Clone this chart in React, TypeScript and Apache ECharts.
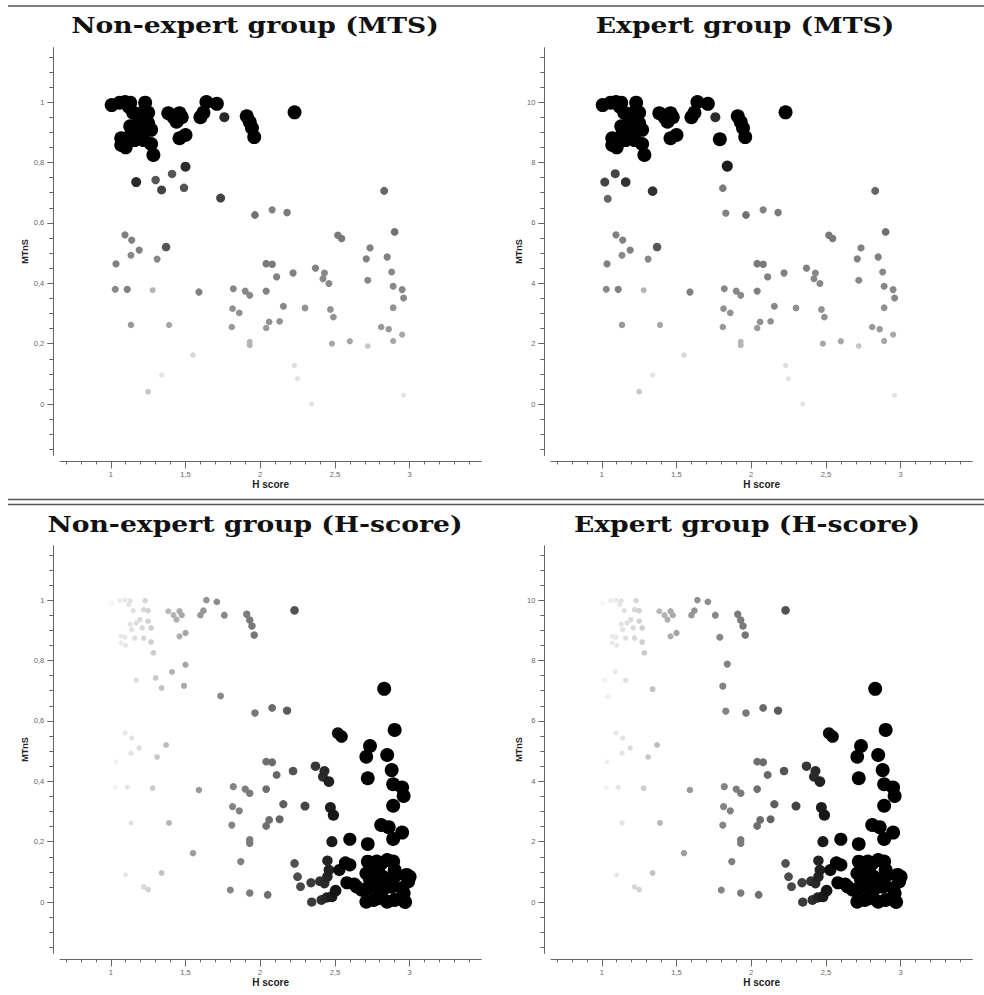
import React, { useEffect, useRef } from 'react';
import * as echarts from 'echarts';

// Non-expert group: [H score, MTnS, MTS shade]
const nonExpert: [number, number, number][] = [
  [1.006, 0.99, 1], [1.06, 0.998, 1], [1.095, 1.0, 1], [1.13, 0.998, 1], [1.12, 0.985, 1],
  [1.15, 0.965, 1], [1.23, 0.998, 1], [1.25, 0.965, 1], [1.22, 0.968, 1], [1.195, 0.935, 1],
  [1.13, 0.92, 1], [1.17, 0.924, 1], [1.25, 0.93, 1], [1.27, 0.908, 1], [1.21, 0.908, 1],
  [1.14, 0.902, 1], [1.07, 0.88, 1], [1.095, 0.877, 1], [1.16, 0.874, 1], [1.22, 0.874, 1],
  [1.07, 0.858, 1], [1.10, 0.85, 1], [1.27, 0.861, 1], [1.285, 0.825, 1], [1.385, 0.963, 1],
  [1.42, 0.95, 1], [1.46, 0.963, 1], [1.475, 0.95, 1], [1.44, 0.935, 1], [1.46, 0.88, 1],
  [1.50, 0.891, 1], [1.60, 0.95, 1], [1.62, 0.965, 1], [1.64, 1.0, 1], [1.71, 0.994, 1],
  [1.91, 0.953, 1], [1.93, 0.934, 1], [1.945, 0.914, 1], [1.96, 0.884, 1], [2.23, 0.966, 1],
  [1.76, 0.95, 0.82],
  [1.17, 0.735, 0.82], [1.30, 0.742, 0.7], [1.34, 0.709, 0.75], [1.41, 0.762, 0.7],
  [1.49, 0.716, 0.7], [1.50, 0.786, 0.82], [1.735, 0.682, 0.75],
  [1.095, 0.56, 0.5], [1.14, 0.543, 0.5], [1.19, 0.51, 0.5], [1.135, 0.493, 0.45],
  [1.035, 0.464, 0.5], [1.31, 0.48, 0.45], [1.37, 0.52, 0.7], [1.03, 0.38, 0.45],
  [1.11, 0.38, 0.5], [1.135, 0.262, 0.35], [1.28, 0.377, 0.25], [1.39, 0.262, 0.3],
  [1.59, 0.371, 0.5], [1.55, 0.162, 0.15], [1.34, 0.096, 0.1], [1.25, 0.041, 0.2],
  [1.10, 0.09, 0], [1.22, 0.05, 0],
  [1.965, 0.626, 0.6], [2.08, 0.643, 0.5], [2.18, 0.634, 0.55],
  [2.83, 0.706, 0.65], [2.90, 0.57, 0.6], [2.52, 0.559, 0.55], [2.545, 0.548, 0.55],
  [2.735, 0.517, 0.5], [2.71, 0.481, 0.5], [2.85, 0.487, 0.5], [2.88, 0.437, 0.45],
  [2.72, 0.41, 0.45], [2.89, 0.39, 0.45], [2.95, 0.379, 0.45], [2.96, 0.351, 0.45],
  [2.89, 0.319, 0.4], [2.37, 0.45, 0.5], [2.43, 0.434, 0.45], [2.42, 0.415, 0.45],
  [2.46, 0.399, 0.45], [2.47, 0.313, 0.4], [2.49, 0.288, 0.4], [2.81, 0.255, 0.35],
  [2.86, 0.248, 0.35], [2.95, 0.23, 0.3], [2.89, 0.209, 0.3], [2.72, 0.192, 0.2],
  [2.48, 0.2, 0.3], [2.60, 0.208, 0.3], [2.04, 0.465, 0.55], [2.08, 0.463, 0.55],
  [2.11, 0.421, 0.5], [2.22, 0.434, 0.5], [1.82, 0.382, 0.45], [1.90, 0.374, 0.45],
  [1.93, 0.36, 0.45], [2.04, 0.374, 0.5], [2.155, 0.324, 0.45], [2.30, 0.318, 0.4],
  [1.815, 0.316, 0.4], [1.86, 0.302, 0.4], [2.06, 0.272, 0.4], [2.04, 0.252, 0.35],
  [2.13, 0.274, 0.4], [1.81, 0.255, 0.35], [1.93, 0.206, 0.25], [1.93, 0.195, 0.25],
  [1.87, 0.134, 0], [2.23, 0.128, 0.12], [2.45, 0.137, 0], [2.57, 0.13, 0], [2.60, 0.123, 0],
  [2.53, 0.106, 0], [2.46, 0.106, 0], [2.45, 0.084, 0], [2.25, 0.084, 0.1], [2.27, 0.051, 0],
  [2.34, 0.064, 0], [2.40, 0.069, 0], [2.43, 0.062, 0], [2.505, 0.038, 0], [2.58, 0.064, 0],
  [2.63, 0.059, 0], [2.645, 0.051, 0], [2.68, 0.04, 0], [2.445, 0.015, 0], [2.48, 0.018, 0],
  [2.41, 0.007, 0], [2.345, 0.0, 0.1], [1.93, 0.03, 0], [2.05, 0.024, 0], [1.80, 0.04, 0],
  [2.72, 0.134, 0], [2.745, 0.117, 0], [2.78, 0.134, 0], [2.81, 0.128, 0], [2.85, 0.139, 0],
  [2.89, 0.134, 0], [2.71, 0.095, 0], [2.745, 0.09, 0], [2.79, 0.1, 0], [2.82, 0.084, 0],
  [2.90, 0.106, 0], [2.91, 0.09, 0], [2.98, 0.09, 0], [3.0, 0.084, 0], [2.735, 0.074, 0],
  [2.81, 0.074, 0], [2.85, 0.062, 0], [2.89, 0.079, 0], [2.99, 0.068, 0], [2.72, 0.046, 0],
  [2.78, 0.051, 0], [2.82, 0.04, 0], [2.88, 0.051, 0], [2.95, 0.046, 0], [2.96, 0.029, 0.1],
  [2.71, 0.001, 0], [2.76, 0.007, 0], [2.79, 0.013, 0], [2.85, 0.001, 0], [2.90, 0.007, 0],
  [2.97, 0.0, 0],
];

// Expert group points that differ from the non-expert group: [H score, MTnS (0-10), MTS shade]
const expertOwn: [number, number, number][] = [
  [1.02, 7.35, 0.75], [1.09, 7.63, 0.75], [1.04, 6.8, 0.65], [1.16, 7.35, 0.8], [1.34, 7.05, 0.8],
  [1.79, 8.77, 1], [1.84, 7.88, 0.85], [1.81, 7.15, 0.55], [1.83, 6.32, 0.5],
];
// Non-expert points (by index) not present in the expert group's upper band
const expertSkip = [41, 42, 43, 44, 45, 46, 47];

const titles = [
  'Non-expert group (MTS)',
  'Expert group (MTS)',
  'Non-expert group (H-score)',
  'Expert group (H-score)',
];
const xLabelValues = [1, 1.5, 2, 2.5, 3];
const yLabelValuesLeft = [0, 0.2, 0.4, 0.6, 0.8, 1];
const yLabelValuesRight = [0, 2, 4, 6, 8, 10];

// visual styles (not data)
const shadeStops: [number, number, number][] = [
  [0, 255, 4], [0.05, 238, 5], [0.15, 216, 5.5], [0.25, 181, 6], [0.35, 153, 6.5],
  [0.45, 136, 7], [0.55, 122, 7.5], [0.65, 102, 8], [0.75, 68, 9], [0.82, 42, 10],
  [0.9, 0, 13], [1, 0, 14],
];
function shadeStyle(s: number) {
  const v = Math.max(0, Math.min(1, s));
  for (let i = 1; i < shadeStops.length; i++) {
    const a = shadeStops[i - 1];
    const b = shadeStops[i];
    if (v <= b[0]) {
      const t = (v - a[0]) / (b[0] - a[0] || 1);
      const g = Math.round(a[1] + (b[1] - a[1]) * t);
      const size = a[2] + (b[2] - a[2]) * t;
      return { color: `rgb(${g},${g},${g})`, size };
    }
  }
  return { color: '#000', size: 14 };
}
const hShade = (h: number) => (h - 0.95) / 1.8;

const fmt = (v: number) => String(Math.round(v * 100) / 100).replace('.', ',');

const GW = 421.3;
const GH = 407.7;
const grids = [
  { left: 60, top: 47.7 },
  { left: 551, top: 47.7 },
  { left: 60, top: 545.7 },
  { left: 551, top: 545.7 },
];

export default function App() {
  const ref = useRef<HTMLDivElement>(null);
  useEffect(() => {
    if (!ref.current) return;
    const chart = echarts.init(ref.current, null, { renderer: 'svg' });
    const axisColor = '#666';
    const xMinor: number[] = [];
    for (let i = 7; i <= 34; i++) xMinor.push(i / 10);
    const yMinorL: number[] = [];
    for (let i = -3; i <= 23; i++) yMinorL.push(i / 20);
    const yMinorR: number[] = yMinorL.map((v) => v * 10);

    const expert: [number, number, number][] = nonExpert
      .filter((_, i) => expertSkip.indexOf(i) < 0)
      .map((p) => [p[0], p[1] * 10, p[2]] as [number, number, number])
      .concat(expertOwn);

    const xAxes: any[] = [];
    const yAxes: any[] = [];
    const series: any[] = [];
    grids.forEach((g, gi) => {
      const right = gi % 2 === 1;
      const bottomRow = gi >= 2;
      xAxes.push({
        type: 'value', gridIndex: gi, min: 0.66, max: 3.48, position: 'bottom', offset: 6,
        axisLine: { show: true, onZero: false, lineStyle: { color: axisColor, width: 1 } },
        axisTick: { show: true, customValues: xMinor, length: 3, lineStyle: { color: axisColor } },
        axisLabel: { show: true, customValues: xLabelValues, formatter: fmt, fontSize: 7.5, color: '#666', margin: 9, fontFamily: 'Liberation Sans' },
        splitLine: { show: false },
        name: 'H score', nameLocation: 'middle', nameGap: 17,
        nameTextStyle: { fontSize: 10, fontWeight: 'bold', color: '#222', fontFamily: 'Liberation Sans' },
      });
      xAxes.push({
        type: 'value', gridIndex: gi, min: 0.66, max: 3.48, position: 'bottom', offset: 6,
        axisLine: { show: false, onZero: false },
        axisTick: { show: true, customValues: xLabelValues, length: 7, lineStyle: { color: axisColor } },
        axisLabel: { show: false },
        splitLine: { show: false },
      });
      const yMin = right ? -1.7 : -0.17;
      const yMax = right ? 11.8 : 1.18;
      yAxes.push({
        type: 'value', gridIndex: gi, min: yMin, max: yMax, position: 'left', offset: 6.7,
        axisLine: { show: true, onZero: false, lineStyle: { color: axisColor, width: 1 } },
        axisTick: { show: true, customValues: right ? yMinorR : yMinorL, length: 4, lineStyle: { color: axisColor } },
        axisLabel: { show: true, customValues: right ? yLabelValuesRight : yLabelValuesLeft, formatter: fmt, fontSize: 7.5, color: '#666', margin: 9, fontFamily: 'Liberation Sans' },
        splitLine: { show: false },
        name: 'MTnS', nameLocation: 'middle', nameGap: 20, nameRotate: 90,
        nameTextStyle: { fontSize: 9, fontWeight: 'bold', color: '#222', fontFamily: 'Liberation Sans' },
      });
      yAxes.push({
        type: 'value', gridIndex: gi, min: yMin, max: yMax, position: 'left', offset: 6.7,
        axisLine: { show: false, onZero: false },
        axisTick: { show: true, customValues: right ? yLabelValuesRight : yLabelValuesLeft, length: 6, lineStyle: { color: axisColor } },
        axisLabel: { show: false },
        splitLine: { show: false },
      });
      const src = right ? expert : nonExpert;
      const items = src
        .map((p) => {
          const s = bottomRow ? hShade(p[0]) : p[2];
          const st = shadeStyle(s);
          return { s, value: [p[0], p[1]], symbolSize: st.size, itemStyle: { color: st.color, opacity: 1 } };
        })
        .filter((d) => d.s > 0.01)
        .sort((a, b) => a.s - b.s)
        .map(({ value, symbolSize, itemStyle }) => ({ value, symbolSize, itemStyle }));
      series.push({
        type: 'scatter', xAxisIndex: gi * 2, yAxisIndex: gi * 2, data: items,
        symbol: 'circle', silent: true, itemStyle: { opacity: 1 },
      });
    });

    const titleFont = { fontFamily: 'DejaVu Serif', fontWeight: 'bold', fontSize: 22 };
    const titlePos = [
      [255, 25], [745, 25], [255, 524], [747, 524],
    ];
    const graphics: any[] = titles.map((t, i) => ({
      type: 'text', x: titlePos[i][0], y: titlePos[i][1], scaleX: 1.21,
      style: { text: t, ...titleFont, fill: '#111', align: 'center', verticalAlign: 'middle', textAlign: 'center', textVerticalAlign: 'middle' },
    }));
    const lineStyle = { stroke: '#555', lineWidth: 1.5 };
    graphics.push({ type: 'line', shape: { x1: 8, y1: 6, x2: 984, y2: 6 }, style: lineStyle });
    graphics.push({ type: 'line', shape: { x1: 8, y1: 499.5, x2: 984, y2: 499.5 }, style: lineStyle });
    graphics.push({ type: 'line', shape: { x1: 8, y1: 504.5, x2: 984, y2: 504.5 }, style: lineStyle });

    chart.setOption({
      animation: false,
      backgroundColor: '#fff',
      grid: grids.map((g) => ({ left: g.left, top: g.top, width: GW, height: GH })),
      xAxis: xAxes,
      yAxis: yAxes,
      series,
      graphic: graphics,
    });
    return () => chart.dispose();
  }, []);
  return (
    <div
      ref={ref}
      style={{ position: 'fixed', left: 0, top: 0, width: 984, height: 995 }}
    />
  );
}
